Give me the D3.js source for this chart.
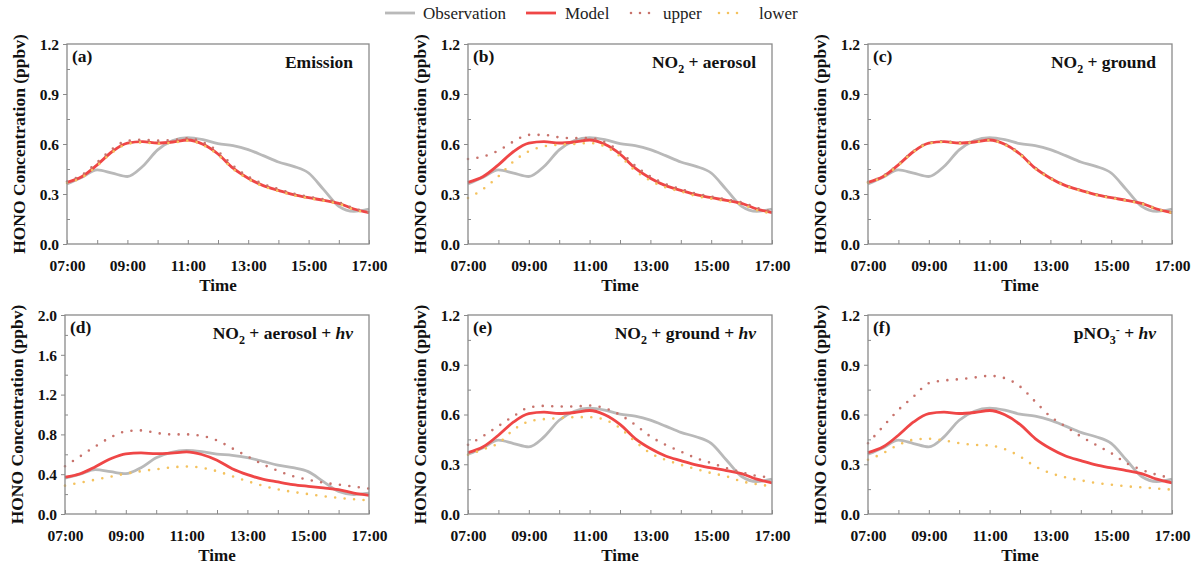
<!DOCTYPE html>
<html>
<head>
<meta charset="utf-8">
<script src="https://cdn.jsdelivr.net/npm/d3@7"></script>
<style>
  body { margin: 0; background: #fff; }
  svg, svg text { font-family: "Liberation Serif", "Times New Roman", serif !important; }
</style>
</head>
<body>
<div id="chart"></div>
<script>
// ---- data ----
var hours = [7, 7.5, 8, 8.5, 9, 9.5, 10, 10.5, 11, 11.5, 12, 12.5, 13, 13.5, 14, 14.5, 15, 15.5, 16, 16.5, 17];
var timeTicks = [7, 9, 11, 13, 15, 17];
var timeLabels = ["07:00", "09:00", "11:00", "13:00", "15:00", "17:00"];

var observation = [0.36, 0.40, 0.445, 0.425, 0.405, 0.465, 0.565, 0.62, 0.638, 0.626, 0.602, 0.59, 0.566, 0.53, 0.492, 0.466, 0.426, 0.326, 0.226, 0.196, 0.21];
var model = [0.37, 0.405, 0.475, 0.555, 0.605, 0.614, 0.606, 0.612, 0.624, 0.598, 0.54, 0.455, 0.395, 0.35, 0.322, 0.296, 0.278, 0.262, 0.244, 0.21, 0.188];

var upperA = [0.375, 0.415, 0.49, 0.57, 0.62, 0.625, 0.62, 0.624, 0.634, 0.61, 0.555, 0.47, 0.405, 0.36, 0.33, 0.303, 0.284, 0.268, 0.25, 0.214, 0.19];
var lowerA = [0.366, 0.40, 0.47, 0.55, 0.60, 0.61, 0.602, 0.608, 0.62, 0.594, 0.535, 0.45, 0.39, 0.346, 0.318, 0.292, 0.275, 0.259, 0.241, 0.207, 0.185];
var upperB = [0.51, 0.525, 0.56, 0.615, 0.655, 0.655, 0.64, 0.635, 0.635, 0.61, 0.555, 0.47, 0.405, 0.36, 0.33, 0.303, 0.284, 0.268, 0.25, 0.218, 0.195];
var lowerB = [0.276, 0.33, 0.406, 0.496, 0.556, 0.586, 0.596, 0.60, 0.606, 0.586, 0.526, 0.44, 0.38, 0.34, 0.315, 0.288, 0.272, 0.256, 0.238, 0.203, 0.183];
var upperC = [0.372, 0.408, 0.478, 0.558, 0.607, 0.616, 0.608, 0.614, 0.626, 0.60, 0.543, 0.458, 0.397, 0.352, 0.324, 0.298, 0.28, 0.264, 0.246, 0.211, 0.189];
var lowerC = [0.368, 0.403, 0.473, 0.553, 0.603, 0.612, 0.604, 0.61, 0.622, 0.596, 0.537, 0.452, 0.393, 0.348, 0.32, 0.294, 0.276, 0.26, 0.242, 0.209, 0.187];
var upperD = [0.48, 0.58, 0.68, 0.77, 0.83, 0.84, 0.815, 0.80, 0.80, 0.785, 0.74, 0.66, 0.58, 0.50, 0.435, 0.38, 0.345, 0.315, 0.295, 0.275, 0.255];
var lowerD = [0.285, 0.315, 0.345, 0.375, 0.405, 0.43, 0.45, 0.468, 0.478, 0.465, 0.43, 0.38, 0.33, 0.285, 0.248, 0.222, 0.20, 0.178, 0.162, 0.148, 0.137];
var upperE = [0.417, 0.47, 0.53, 0.59, 0.642, 0.652, 0.648, 0.648, 0.654, 0.638, 0.598, 0.538, 0.468, 0.417, 0.377, 0.337, 0.307, 0.277, 0.251, 0.23, 0.22];
var lowerE = [0.357, 0.39, 0.427, 0.508, 0.558, 0.572, 0.578, 0.584, 0.584, 0.568, 0.518, 0.437, 0.367, 0.327, 0.297, 0.271, 0.247, 0.227, 0.197, 0.18, 0.167];
var upperF = [0.427, 0.528, 0.628, 0.708, 0.789, 0.805, 0.813, 0.823, 0.833, 0.819, 0.769, 0.678, 0.588, 0.528, 0.468, 0.417, 0.367, 0.307, 0.267, 0.237, 0.217];
var lowerF = [0.327, 0.367, 0.417, 0.448, 0.454, 0.444, 0.427, 0.417, 0.413, 0.391, 0.347, 0.287, 0.247, 0.221, 0.203, 0.187, 0.177, 0.167, 0.161, 0.153, 0.147];

var yTicksStd = [0, 0.3, 0.6, 0.9, 1.2];
var yTicksD = [0, 0.4, 0.8, 1.2, 1.6, 2.0];

var legendNames = ["Observation", "Model", "upper", "lower"];

// ---- panels ----
var panels = [
  { tag: "(a)", title: [["Emission"]], upper: upperA, lower: lowerA, yMax: 1.2, yTicks: yTicksStd, x0: 67, x1: 369, y0: 44, y1: 244 },
  { tag: "(b)", title: [["NO"], ["2", "sub"], [" + aerosol"]], upper: upperB, lower: lowerB, yMax: 1.2, yTicks: yTicksStd, x0: 468, x1: 772, y0: 44, y1: 244 },
  { tag: "(c)", title: [["NO"], ["2", "sub"], [" + ground"]], upper: upperC, lower: lowerC, yMax: 1.2, yTicks: yTicksStd, x0: 868, x1: 1172, y0: 44, y1: 244 },
  { tag: "(d)", title: [["NO"], ["2", "sub"], [" + aerosol + "], ["hv", "it"]], upper: upperD, lower: lowerD, yMax: 2.0, yTicks: yTicksD, x0: 65, x1: 369, y0: 315, y1: 514 },
  { tag: "(e)", title: [["NO"], ["2", "sub"], [" + ground + "], ["hv", "it"]], upper: upperE, lower: lowerE, yMax: 1.2, yTicks: yTicksStd, x0: 468, x1: 772, y0: 315, y1: 514 },
  { tag: "(f)", title: [["pNO"], ["3", "sub"], ["-", "sup"], [" + "], ["hv", "it"]], upper: upperF, lower: lowerF, yMax: 1.2, yTicks: yTicksStd, x0: 868, x1: 1172, y0: 315, y1: 514 }
];

var colObs = "#b9b9b9",
    colModel = "#ef4646",
    colUpper = "#c8736c",
    colLower = "#f4c25e",
    colFrame = "#8a8a8a",
    colText = "#111";

var W = 1199, H = 568;

var svg = d3.select("#chart").append("svg")
  .attr("width", W)
  .attr("height", H);

panels.forEach(function(p) {
  var x = d3.scaleLinear().domain([7, 17]).range([p.x0, p.x1]);
  var y = d3.scaleLinear().domain([0, p.yMax]).range([p.y1, p.y0]);
  var g = svg.append("g");

  var line = function(vals) {
    return d3.line()
      .x(function(d, i) { return x(hours[i]); })
      .y(function(d) { return y(d); })
      .curve(d3.curveMonotoneX)(vals);
  };

  // curves
  g.append("path").attr("d", line(observation))
    .attr("fill", "none").attr("stroke", colObs).attr("stroke-width", 2.8);
  g.append("path").attr("d", line(model))
    .attr("fill", "none").attr("stroke", colModel).attr("stroke-width", 2.8);
  g.append("path").attr("d", line(p.upper))
    .attr("fill", "none").attr("stroke", colUpper).attr("stroke-width", 2.6)
    .attr("stroke-linecap", "round").attr("stroke-dasharray", "0 9.5");
  g.append("path").attr("d", line(p.lower))
    .attr("fill", "none").attr("stroke", colLower).attr("stroke-width", 2.6)
    .attr("stroke-linecap", "round").attr("stroke-dasharray", "0 9.5");

  // x axis: ticks every hour, pointing inward
  var xAxis = g.append("g")
    .attr("transform", "translate(0," + p.y1 + ")")
    .call(d3.axisBottom(x).tickValues(d3.range(7, 18, 1)).tickSize(-4).tickFormat(""));
  xAxis.select(".domain").remove();
  xAxis.selectAll("line").attr("stroke", colFrame);

  var xLab = g.append("g")
    .attr("transform", "translate(0," + p.y1 + ")")
    .call(d3.axisBottom(x).tickValues(timeTicks).tickSize(0).tickPadding(16)
      .tickFormat(function(d, i) { return timeLabels[i]; }));
  xLab.select(".domain").remove();
  xLab.selectAll("text")
    .style("font-size", "15.5px").style("font-weight", "bold").attr("fill", colText);

  // y axis: major ticks outward, minor inward
  var step = p.yTicks[1] - p.yTicks[0];
  var minor = p.yTicks.slice(0, -1).map(function(v) { return v + step / 2; });
  var yMinor = g.append("g")
    .attr("transform", "translate(" + p.x0 + ",0)")
    .call(d3.axisLeft(y).tickValues(minor).tickSize(-3).tickFormat(""));
  yMinor.select(".domain").remove();
  yMinor.selectAll("line").attr("stroke", colFrame);

  var yAxis = g.append("g")
    .attr("transform", "translate(" + p.x0 + ",0)")
    .call(d3.axisLeft(y).tickValues(p.yTicks).tickSize(4).tickPadding(4).tickFormat(d3.format(".1f")));
  yAxis.select(".domain").remove();
  yAxis.selectAll("line").attr("stroke", colFrame);
  yAxis.selectAll("text")
    .style("font-size", "15.5px").style("font-weight", "bold").attr("fill", colText)
    .attr("dy", "0.34em");

  // frame
  g.append("rect")
    .attr("x", p.x0).attr("y", p.y0)
    .attr("width", p.x1 - p.x0).attr("height", p.y1 - p.y0)
    .attr("fill", "none").attr("stroke", colFrame).attr("stroke-width", 1.3);

  // axis titles
  g.append("text")
    .attr("x", (p.x0 + p.x1) / 2).attr("y", p.y1 + 47)
    .attr("text-anchor", "middle")
    .style("font-size", "17px").style("font-weight", "bold").attr("fill", colText)
    .text("Time");

  g.append("text")
    .attr("transform", "translate(" + (p.x0 - 42) + "," + ((p.y0 + p.y1) / 2) + ") rotate(-90)")
    .attr("text-anchor", "middle")
    .style("font-size", "17.5px").style("font-weight", "bold").attr("fill", colText)
    .text("HONO Concentration (ppbv)");

  // panel tag and title
  g.append("text")
    .attr("x", p.x0 + 5).attr("y", p.y0 + 18)
    .style("font-size", "17.5px").style("font-weight", "bold").attr("fill", colText)
    .text(p.tag);

  var t = g.append("text")
    .attr("x", p.x1 - 16).attr("y", p.y0 + 24)
    .attr("text-anchor", "end")
    .style("font-size", "17.5px").style("font-weight", "bold").attr("fill", colText);
  var shift = 0;
  p.title.forEach(function(part) {
    var s = t.append("tspan").text(part[0]);
    var target = 0;
    if (part[1] === "sub") { target = 5; s.style("font-size", "12px"); }
    if (part[1] === "sup") { target = -5; s.style("font-size", "12px"); }
    if (part[1] === "it") { s.style("font-style", "italic"); }
    s.attr("dy", target - shift);
    shift = target;
  });
});

// ---- legend ----
var legend = svg.append("g").attr("transform", "translate(0,13)");
var legendItems = [
  { x: 385, color: colObs, dash: null, w: 2.8, tx: 423 },
  { x: 526, color: colModel, dash: null, w: 2.8, tx: 565 },
  { x: 628, color: colUpper, dash: "0 9", w: 2.6, tx: 663 },
  { x: 716, color: colLower, dash: "0 9", w: 2.6, tx: 759 }
];
legendItems.forEach(function(it, i) {
  var ln = legend.append("line")
    .attr("x1", it.x + (it.dash ? 3 : 0)).attr("x2", it.x + 30)
    .attr("y1", 0).attr("y2", 0)
    .attr("stroke", it.color).attr("stroke-width", it.w);
  if (it.dash) ln.attr("stroke-dasharray", it.dash).attr("stroke-linecap", "round");
  legend.append("text")
    .attr("x", it.tx).attr("y", 6)
    .style("font-size", "17px").attr("fill", "#222")
    .text(legendNames[i]);
});
</script>
</body>
</html>
